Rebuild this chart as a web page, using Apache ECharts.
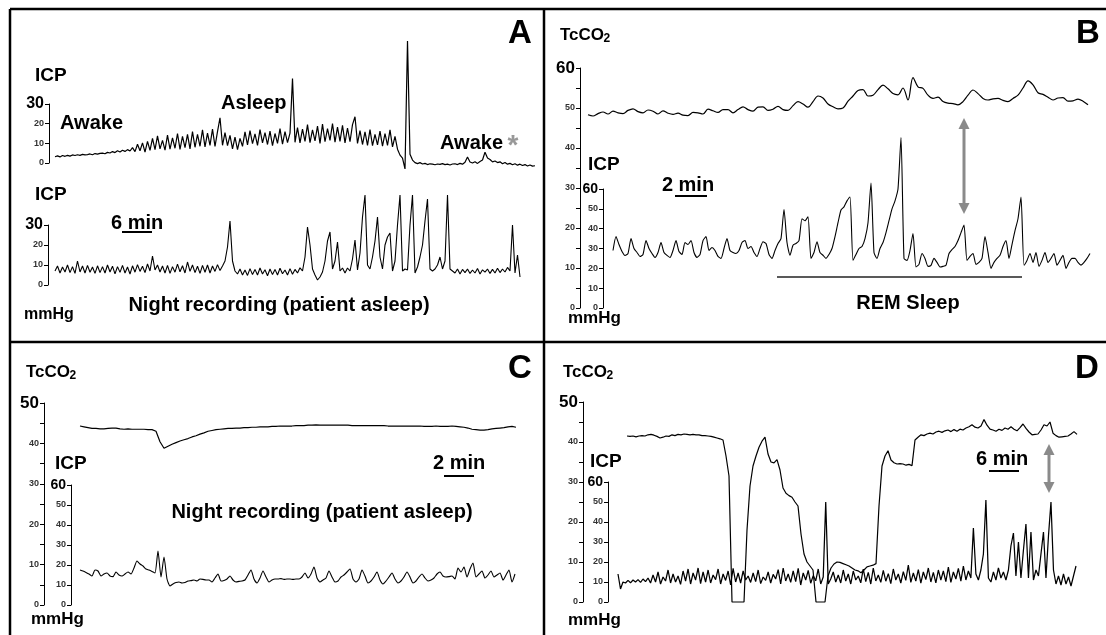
<!DOCTYPE html>
<html>
<head>
<meta charset="utf-8">
<title>ICP and TcCO2 recordings</title>
<script src="https://cdn.jsdelivr.net/npm/echarts/dist/echarts.min.js"></script>
<style>
  html, body { margin: 0; padding: 0; background: #fff; }
  #chart { width: 1106px; height: 635px; }
</style>
</head>
<body>
<div id="chart"></div>
<script>
// ---- Recorded traces (uniformly sampled, mmHg) ----

// A, upper: ICP while awake -> asleep -> awake again
const icpDayA = [3.2,3.6,3.1,3.8,3.4,3.9,3.5,4.1,3.8,4.2,3.9,4.4,4.1,4.3,4.6,4.2,4.8,4.5,4.9,
  5.0,4.7,5.4,5.1,5.8,5.3,6.2,5.6,6.5,5.9,6.8,6.1,
  7.8,5.8,9.5,6.2,10.2,5.5,11.0,6.4,
  12.5,6.8,13.8,7.2,11.5,6.5,14.2,7.0,12.8,7.5,15.0,6.9,13.5,7.8,14.6,7.2,
  16.0,8.0,14.5,8.5,16.8,8.2,15.2,9.0,17.2,8.4,16.0,
  23.0,9.0,
  15.5,8.8,14.0,7.2,13.2,6.8,12.5,8.5,15.8,9.2,16.5,9.8,14.8,9.0,17.0,10.2,15.5,9.4,16.2,8.8,15.0,10.0,17.5,9.6,16.0,10.4,15.2,
  43.0,10.5,
  18.0,10.2,17.2,11.0,19.5,10.4,16.8,11.2,18.8,10.0,19.8,10.8,17.5,11.5,20.0,10.6,18.2,11.0,19.2,10.2,17.8,10.8,19.5,
  23.5,10.0,
  16.5,9.4,15.8,9.0,17.0,8.8,14.5,9.2,16.2,8.6,15.0,9.0,16.8,8.2,13.5,7.0,
  4.0,2.5,-3.0,62.0,4.5,1.5,0.2,
  -0.3,0.2,-0.5,-0.2,-0.8,-0.4,-0.6,-0.9,-0.5,-0.7,-0.3,-0.8,-0.6,-1.0,-0.5,-0.4,-0.8,-0.2,-0.6,0.4,
  3.0,0.5,
  0.0,0.6,-0.2,0.8,1.5,
  5.5,2.5,1.8,0.6,
  1.0,0.2,0.6,-0.4,0.3,-0.6,-0.2,-0.9,-0.4,-1.1,-0.6,-1.3,-0.8,-1.5,-1.0,-1.6,-1.4];

// A, lower: ICP during the night
const icpNightA = [7,9.5,6,9,6.5,10,6.2,9.2,5.8,12, 6.5,9.5,6,9.8,6.4,9,5.8,9.6,6.2,9.2,
  6,10,6.5,9.4,5.6,9.2,6.3,9.8,6,9, 5.5,9.6,6.4,10.2,6.8,9.4,6.2,10.5,7,14.5,
  7.5,10,6.5,9.5,6,9.8,5.8,9.2,6.4,10.4, 6.6,9.6,6,11.5,6.8,10,6.2,9.4,5.8,9.8,
  6.4,10,6,9.5,6.8,10.2,7.2,9.5,
  12,19,32,12,7,
  5.5,8,5,7.5,4.8,8.2,5.2,7.8,5,8.5,5.5,7.6,4.6,8,5.2,7.8,5,8.4,5.6,7.5,5,8.2,5.4,7.8,6,8.6,7,
  14,29,20,8,5,2.5,4,6.5,12,22, 26.5,8,12,21.5,7,8.5,6,8.5,7,13,
  22.5,7.5,16,34,45,10,8,14,22,34, 14,8,20,24,26,7,12,30,45,7,
  8,7.5,30,45,6,9,14,20,32,43, 8,7,8,10,14,8,12,45,8,7,
  6,8,5.5,7.8,6.2,8,5.8,7.5,6,8.2,5.5,7.6,6.4,8,5.8,7.8,6,8.4,6.2,8,6.5,8.8,7,
  30,6,15,4];

// B: TcCO2 and ICP around REM sleep
const tcco2B = [48.3,48.0,48.6,49.0,48.5,49.2,48.8,48.6,49.4,49.8, 49.1,48.8,49.5,49.2,48.5,49.3,48.7,48.4,48.7,48.2,
  48.1,48.9,48.8,48.5,49.7,49.3,48.9,49.6,49.6,48.8, 49.6,50.3,49.6,49.2,50.2,50.3,49.4,49.7,50.4,49.6,
  49.4,50.6,51.6,51.0,50.2,51.6,53.0,52.5,51.0,50.3, 49.8,50.0,51.7,53.0,54.4,54.6,53.0,53.2,54.6,55.7,
  54.8,53.6,53.3,55.0,52.0,57.6,55.3,54.9,53.2,52.4, 52.7,51.6,51.2,51.1,50.8,51.6,53.2,54.5,53.6,52.4,
  52.0,52.3,52.4,51.9,51.6,52.4,53.2,55.0,56.8,55.8, 53.8,53.4,52.7,52.0,52.5,52.6,51.7,51.8,52.2,51.7,
  50.8];

const icpB = [29,36,32,28.5,26.5,27.5,35,30,28,26, 27,34,30,27.5,25.5,28,33,28,26.5,25.5,
  29,34,28.5,27,33,32,34,28,25.5,27, 34,36,29,30.5,29,26,25,30,35,29,
  28,27.5,29,33,34,30,31,28,26,30, 33.4,32.5,27,25,29,32.5,35,
  49.7,33,26.6,31.7,32.5,34,45,44,46,25, 28,33.4,28,26.6,25,27,30,36,43,49.4,
  51,54,56,24,27,30,31,35,43,63, 28,25,30,33,38,44,50,54,60,86,
  25,24,29,37.6,20.7,22,27.5,25,21,21.5, 25,23,20.7,21,21.6,27.5,29.5,31,34,38,
  41.8,24,26,27.5,22,23,25,36,28,20, 23,25,26.6,31,34,25,32,39,45,56,
  21.6,24,27.5,23,28,21,24,28,23,25, 27.5,21.6,24,26.6,20,23,25,25,23,21.6,
  23,25,27.5];

// C: TcCO2 and ICP, night recording
const tcco2C = [44.3,44.1,43.9,43.7,43.7,43.6,43.6,43.7,43.8,43.8,
  43.6,43.5,43.6,43.5,43.5,43.5,43.5,43.4,43.4,43.0,
  40.4,38.8,39.3,39.8,40.2,40.6,40.9,41.2,41.6,41.9,
  42.3,42.6,43.0,43.2,43.4,43.5,43.6,43.7,43.7,43.8,
  43.8,43.9,43.9,44.0,44.0,44.1,44.1,44.1,44.2,44.2,
  44.3,44.3,44.3,44.3,44.4,44.4,44.4,44.5,44.5,44.6,
  44.5,44.5,44.5,44.5,44.5,44.5,44.5,44.5,44.4,44.4,
  44.4,44.4,44.4,44.4,44.4,44.4,44.4,44.3,44.3,44.3,
  44.3,44.3,44.3,44.3,44.3,44.3,44.2,44.2,44.2,44.3,
  44.2,44.2,44.2,44.3,44.2,44.1,44.0,43.8,43.5,43.4,
  43.3,43.3,43.4,43.6,43.7,43.8,43.9,44.1,44.2,44.0];

const icpC = [17.5,17.0,16.3,15.5,14.5,17.5,17.0,14.5,15.5,16.0,
  14.5,14.2,16.5,15.0,14.5,15.5,16.5,15.5,18.5,22.0,
  20.5,19.5,18.0,17.5,16.8,16.0,27.0,14.0,24.0,13.0,
  9.5,10.5,11.2,11.5,11.0,11.2,12.0,12.2,12.5,12.0,
  13.0,12.8,12.5,12.5,11.5,13.5,15.5,12.0,12.3,13.0,
  14.5,12.5,11.5,11.8,12.0,12.5,15.0,17.5,13.0,11.0,
  13.5,17.0,14.0,11.5,12.5,13.0,13.0,13.2,12.8,13.0,
  13.0,12.8,13.0,13.0,14.0,16.0,13.5,15.5,19.0,13.5,
  11.5,12.5,13.5,17.0,14.0,11.5,12.0,14.0,15.0,16.5,
  18.0,13.0,11.5,13.0,17.5,14.5,11.0,12.0,14.0,16.5,
  12.5,10.5,12.0,14.0,16.0,13.0,11.0,12.0,14.0,16.5,
  14.0,11.0,12.0,14.0,15.5,13.5,12.0,12.5,13.5,15.5,
  16.5,14.5,14.0,14.2,14.5,13.0,18.5,16.5,19.0,14.0,
  18.0,21.0,14.0,15.5,17.0,13.5,15.0,17.0,14.0,15.0,
  16.0,12.5,15.0,17.5,11.5,15.5];

// D: TcCO2 with two sensor dropouts, and ICP
const tcco2D = [41.5,41.4,41.5,41.3,41.5,41.6,41.5,41.8,41.9,41.7,
  41.4,41.0,41.2,41.5,41.4,41.8,41.6,41.9,41.8,42.0,
  41.9,41.8,41.9,41.8,41.8,41.6,41.6,41.5,41.4,41.2,
  41.0,40.8,40.5,36.5,31.5,0,0,0,0,0,
  18,29,34,36.5,38.7,40.2,41.2,37.0,35.0,34.8,
  35.6,33.0,28.5,27.2,26.6,26.2,25.0,24.0,17.0,12.0,
  10.0,9.0,8.0,0,0,0,0,6.5,8.5,9.5,
  10.0,9.9,9.6,9.3,9.0,8.5,8.0,7.8,7.3,8.0,
  8.8,9.0,9.2,9.6,24.0,34.0,36.5,37.8,35.5,34.8,
  34.5,34.6,34.5,34.2,34.4,34.1,40.5,41.2,41.8,41.6,
  42.0,42.2,42.0,42.5,42.7,42.4,42.8,43.0,42.6,43.1,
  42.7,43.2,43.0,43.5,43.8,44.3,43.7,43.5,44.0,45.6,
  44.2,43.2,43.0,42.7,43.2,42.9,43.5,43.2,43.8,43.2,
  42.8,43.6,44.5,43.4,42.5,41.8,41.9,42.0,43.0,44.3,
  44.0,45.0,42.2,41.6,41.2,41.3,41.4,41.5,42.0,42.6,
  41.9];

const icpD = [14,6.5,10,9.5,10.8,9.6,11,10,11.2,9.8,11.5,10.2,12,
  9.5,13.5,10,15,9,12.5,10.5,16,9.5,14, 10,13,8.8,15.5,10.5,16.5,9,14.5,11,17,
  9.2,15,10,16,9.5,13.5,11.2,16.5,9,14, 10.8,15.5,8.5,16.8,10,14.5,
  9.5,15.5,11,13,9.8,14.5,10.2,16,9.2,12.5, 10.8,15,9.5,13.8,11.5,16.2,9,17,10.5,14,
  9.8,15.5,10.2,16.8,8.5,14.5,11,15.8,9.4,13.2, 10.6,16.5,9,12.5,
  50,9,
  11.5,15,10,13.5,9.5,16,10.5,14,9,15.5, 11,13,9.6,16.5,10.2,14.8,9,17,10.5,13.5,
  9.8,15.8,10.4,14.2,9.2,16.5,11,14,9.5,15.2, 10.8,18.5,9.8,14.5,10.5,16.2,9.4,15,11.2,17,
  10,14.8,9.6,16,11,15.5,10.2,17.5,9.8,15, 11.5,16.8,10.4,18,11,15.5,12,
  37,14,11,16,24,51,12,10,15,11, 17,12,15,11,16,28,34.5,13,30,12,
  26,39,12,35,11,16,13,24,35,12, 33,50,16,9,13,8.5,14,9,12.5,8,
  13,18];

// ---- Drawing ----
const FONT = '"Liberation Sans", Arial, Helvetica, sans-serif';
const INK = '#000';
const ARROW = '#8a8a8a';

// one entry per trace: placement of its plotting area and its own mmHg scale
const plots = [
  { data: icpDayA,   box: { left: 55,  top: 104, width: 480, height: 59 },  max: 30, step: 10, every: 10, offset: 6,  big: 16, lw: 1.2 },
  { data: icpNightA, box: { left: 55,  top: 225, width: 465, height: 60 },  max: 30, step: 10, every: 10, offset: 7,  big: 16, lw: 1.1 },
  { data: tcco2B,    box: { left: 588, top: 68,  width: 500, height: 240 }, max: 60, step: 5,  every: 10, offset: 8,  big: 17, lw: 1.2, smooth: 0.35 },
  { data: icpB,      box: { left: 613, top: 189, width: 477, height: 119 }, max: 60, step: 10, every: 10, offset: 10, big: 14, lw: 1.1, smooth: 0.2 },
  { data: tcco2C,    box: { left: 80,  top: 403, width: 436, height: 202 }, max: 50, step: 5,  every: 10, offset: 36, big: 17, lw: 1.2 },
  { data: icpC,      box: { left: 80,  top: 485, width: 435, height: 120 }, max: 60, step: 10, every: 10, offset: 9,  big: 14, lw: 1.1, smooth: 0.2 },
  { data: tcco2D,    box: { left: 627, top: 402, width: 450, height: 200 }, max: 50, step: 5,  every: 10, offset: 44, big: 17, lw: 1.2 },
  { data: icpD,      box: { left: 618, top: 482, width: 458, height: 120 }, max: 60, step: 10, every: 10, offset: 10, big: 14, lw: 1.25 }
];

const grid = [], xAxis = [], yAxis = [], series = [];
plots.forEach((p, k) => {
  grid.push(Object.assign({ containLabel: false }, p.box));
  xAxis.push({ type: 'value', gridIndex: k, min: 0, max: p.data.length - 1, show: false });
  yAxis.push({
    type: 'value', gridIndex: k, min: 0, max: p.max, interval: p.step, offset: p.offset,
    axisLine: { show: true, onZero: false, lineStyle: { color: INK, width: 1 } },
    axisTick: { show: true, length: 4, lineStyle: { color: INK, width: 1 } },
    splitLine: { show: false },
    axisLabel: {
      margin: 5,
      formatter: v => v === p.max ? '{big|' + v + '}' : (v % p.every === 0 ? '{sm|' + v + '}' : ''),
      rich: {
        big: { fontSize: p.big, fontWeight: 'bold', fontFamily: FONT, color: INK },
        sm: { fontSize: 9, fontWeight: 'bold', fontFamily: FONT, color: '#333' }
      }
    }
  });
  series.push({
    type: 'line', xAxisIndex: k, yAxisIndex: k,
    data: p.data.map((v, i) => [i, v]),
    showSymbol: false, symbol: 'none', clip: false, smooth: p.smooth || false,
    lineStyle: { color: INK, width: p.lw }, silent: true
  });
});

function text(str, x, y, size, align, color) {
  return {
    type: 'text', x: x, y: y, silent: true,
    style: {
      text: str, fill: color || INK, font: 'bold ' + size + 'px ' + FONT,
      textAlign: align || 'left', align: align || 'left',
      textVerticalAlign: 'middle', verticalAlign: 'middle'
    }
  };
}
function seg(x1, y1, x2, y2, w, color) {
  return { type: 'line', silent: true, shape: { x1, y1, x2, y2 }, style: { stroke: color || INK, lineWidth: w } };
}
// "TcCO" with a lowered, smaller "2"
function tcco2Label(x, y) {
  return [text('TcCO', x, y, 17), text('2', x + 43.5, y + 4, 12)];
}
function doubleArrow(x, y1, y2) {
  const h = 11, w = 5.5;
  return [
    seg(x, y1 + h - 2, x, y2 - h + 2, 3, ARROW),
    { type: 'polygon', silent: true, shape: { points: [[x, y1], [x - w, y1 + h], [x + w, y1 + h]] }, style: { fill: ARROW } },
    { type: 'polygon', silent: true, shape: { points: [[x, y2], [x - w, y2 - h], [x + w, y2 - h]] }, style: { fill: ARROW } }
  ];
}

const elements = [
  // panel frames
  seg(10, 9, 1106, 9, 2.5), seg(10, 9, 10, 635, 2.5),
  seg(544, 9, 544, 635, 2.5), seg(10, 342, 1106, 342, 2.5),

  // A
  text('A', 520, 34, 33, 'center'),
  text('ICP', 35, 76, 19),
  text('Awake', 60, 123, 20),
  text('Asleep', 221, 103, 20),
  text('Awake', 440, 143, 20),
  text('*', 513, 146, 28, 'center', '#999'),
  text('ICP', 35, 195, 19),
  text('6 min', 111, 223, 20),
  seg(122, 232, 152, 232, 2),
  text('Night recording (patient asleep)', 279, 305, 20, 'center'),
  text('mmHg', 24, 315, 16),

  // B
  text('B', 1088, 34, 33, 'center'),
  ...tcco2Label(560, 35),
  text('ICP', 588, 165, 19),
  text('2 min', 688, 185, 20, 'center'),
  seg(675, 196, 707, 196, 2),
  ...doubleArrow(964, 118, 214),
  seg(777, 277, 1022, 277, 1.5, '#222'),
  text('REM Sleep', 908, 303, 20, 'center'),
  text('mmHg', 568, 318, 17),

  // C
  text('C', 520, 369, 33, 'center'),
  ...tcco2Label(26, 372),
  text('ICP', 55, 464, 19),
  text('2 min', 433, 463, 20),
  seg(444, 476, 474, 476, 2),
  text('Night recording (patient asleep)', 322, 512, 20, 'center'),
  text('mmHg', 31, 619, 17),

  // D
  text('D', 1087, 369, 33, 'center'),
  ...tcco2Label(563, 372),
  text('ICP', 590, 462, 19),
  text('6 min', 976, 459, 20),
  seg(989, 471, 1019, 471, 2),
  ...doubleArrow(1049, 444, 493),
  text('mmHg', 568, 620, 17)
];

const chart = echarts.init(document.getElementById('chart'), null, { renderer: 'canvas' });
chart.setOption({
  animation: false,
  backgroundColor: '#fff',
  textStyle: { fontFamily: FONT },
  grid, xAxis, yAxis, series,
  graphic: { elements }
});
</script>
</body>
</html>
